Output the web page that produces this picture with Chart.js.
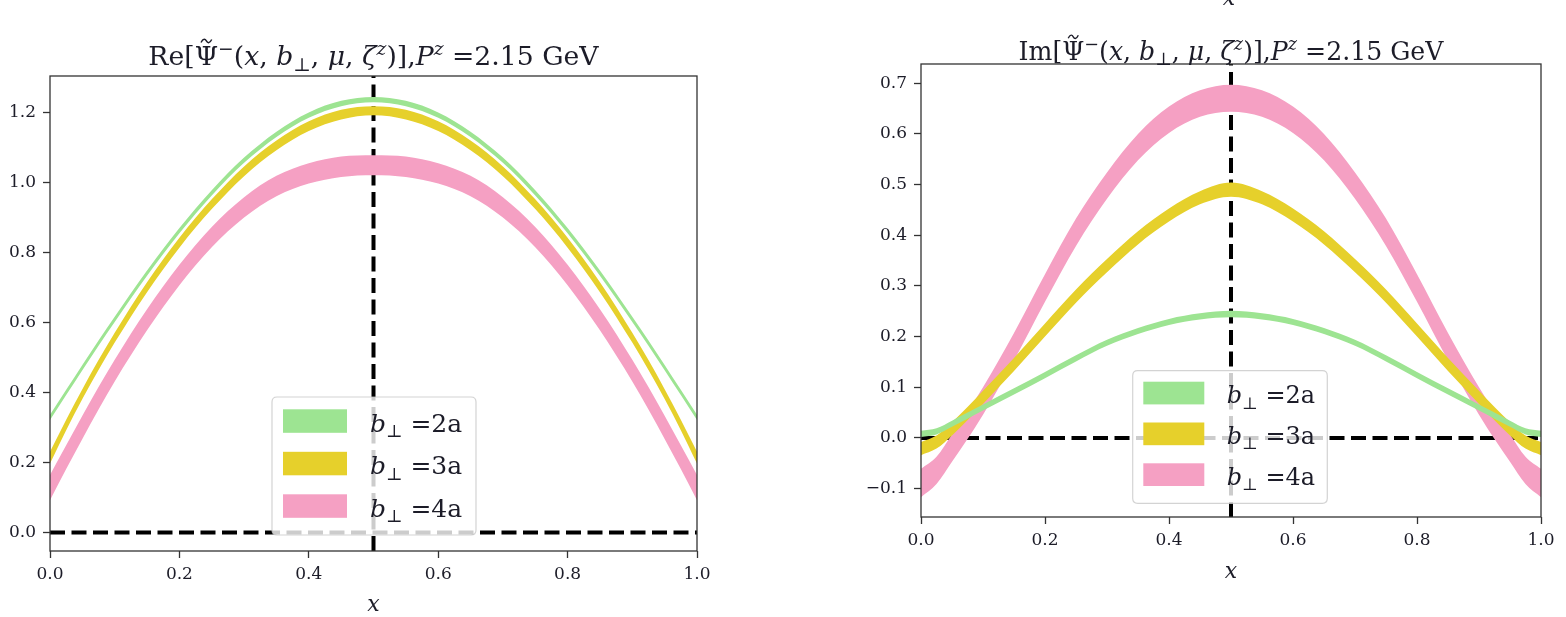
<!DOCTYPE html>
<html><head><meta charset="utf-8">
<script src="https://cdn.jsdelivr.net/npm/chart.js@4/dist/chart.umd.min.js"></script>
<style>
html,body{margin:0;padding:0;background:#fff;width:1566px;height:617px;overflow:hidden}
.w{position:absolute;top:0;width:783px;height:617px}
#w1{left:0}
#w2{left:783px}
</style></head><body>
<div class="w" id="w1"><canvas id="c1"></canvas></div>
<div class="w" id="w2"><canvas id="c2"></canvas></div>
<script>
// ---------------- data ----------------
const xs = [0,0.025,0.05,0.075,0.1,0.15,0.2,0.25,0.3,0.35,0.4,0.45,0.5,0.55,0.6,0.65,0.7,0.75,0.8,0.85,0.9,0.925,0.95,0.975,1];

const reGreenLow  = [0.321,0.392,0.463,0.533,0.601,0.733,0.854,0.962,1.055,1.129,1.184,1.217,1.228,1.217,1.184,1.129,1.055,0.962,0.854,0.733,0.601,0.533,0.463,0.392,0.321];
const reGreenHigh = [0.336,0.407,0.478,0.548,0.616,0.748,0.869,0.977,1.070,1.144,1.199,1.232,1.243,1.232,1.199,1.144,1.070,0.977,0.869,0.748,0.616,0.548,0.478,0.407,0.336];
const reYellowLow  = [0.197,0.292,0.381,0.464,0.542,0.686,0.813,0.923,1.017,1.091,1.146,1.179,1.191,1.179,1.146,1.091,1.017,0.923,0.813,0.686,0.542,0.464,0.381,0.292,0.197];
const reYellowHigh = [0.230,0.322,0.409,0.492,0.570,0.714,0.841,0.951,1.045,1.119,1.174,1.207,1.217,1.207,1.174,1.119,1.045,0.951,0.841,0.714,0.570,0.492,0.409,0.322,0.230];
const rePinkLow  = [0.092,0.181,0.267,0.351,0.431,0.577,0.706,0.814,0.899,0.960,0.996,1.015,1.020,1.015,0.996,0.960,0.899,0.814,0.706,0.577,0.431,0.351,0.267,0.181,0.092];
const rePinkHigh = [0.164,0.249,0.333,0.415,0.493,0.637,0.764,0.872,0.957,1.018,1.054,1.073,1.077,1.073,1.054,1.018,0.957,0.872,0.764,0.637,0.493,0.415,0.333,0.249,0.164];

const imGreenLow  = [0.002,0.007,0.022,0.038,0.054,0.086,0.118,0.151,0.182,0.205,0.223,0.234,0.238,0.234,0.223,0.205,0.182,0.151,0.118,0.086,0.054,0.038,0.022,0.007,0.002];
const imGreenHigh = [0.014,0.019,0.034,0.050,0.066,0.098,0.130,0.163,0.194,0.217,0.235,0.246,0.251,0.246,0.235,0.217,0.194,0.163,0.130,0.098,0.066,0.050,0.034,0.019,0.014];
const imYellowLow  = [-0.034,-0.021,0.005,0.035,0.067,0.132,0.200,0.267,0.327,0.382,0.427,0.461,0.476,0.461,0.427,0.382,0.327,0.267,0.200,0.132,0.067,0.035,0.005,-0.021,-0.034];
const imYellowHigh = [-0.008,0.005,0.031,0.061,0.093,0.158,0.226,0.293,0.353,0.408,0.453,0.487,0.504,0.487,0.453,0.408,0.353,0.293,0.226,0.158,0.093,0.061,0.031,0.005,-0.008];
const imPinkLow  = [-0.117,-0.091,-0.047,-0.002,0.046,0.153,0.269,0.379,0.472,0.548,0.602,0.634,0.644,0.634,0.602,0.548,0.472,0.379,0.269,0.153,0.046,-0.002,-0.047,-0.091,-0.117];
const imPinkHigh = [-0.061,-0.037,0.007,0.052,0.100,0.207,0.323,0.433,0.524,0.600,0.654,0.686,0.697,0.686,0.654,0.600,0.524,0.433,0.323,0.207,0.100,0.052,0.007,-0.037,-0.061];

const xTicks   = [0,0.2,0.4,0.6,0.8,1.0];
const reYTicks = [0,0.2,0.4,0.6,0.8,1.0,1.2];
const imYTicks = [-0.1,0,0.1,0.2,0.3,0.4,0.5,0.6,0.7];
const legendValues = ['2a','3a','4a'];
const refX = 0.5;
const refY = 0;
const reTitlePart = 'Re';
const imTitlePart = 'Im';
const titleTail = ' =2.15 GeV';

// ---------------- styling ----------------
const COLORS = ['#9de492','#e6d02b','#f5a0c3'];
const SERIF = "'DejaVu Serif', 'Liberation Serif', serif";
const INK = '#1c1c28';

function pts(ys){ return xs.map((x,i)=>({x, y: ys[i]})); }

function drawRich(ctx, segs, x0, baseY, size, align){
  const pieces = segs.map(([t, st, pos]) => {
    const small = pos === 'sup' || pos === 'sub';
    const s = small ? size*0.7 : size;
    const font = (st==='i' ? 'italic ' : '') + s + 'px ' + SERIF;
    ctx.font = font;
    const w = ctx.measureText(t).width;
    const dy = pos==='sup' ? -size*0.38 : (pos==='sub' ? size*0.22 : 0);
    return {t, font, w, dy, pos};
  });
  const total = pieces.reduce((a,p)=>a+p.w, 0);
  let x = align==='center' ? x0 - total/2 : x0;
  ctx.textAlign = 'left';
  ctx.textBaseline = 'alphabetic';
  for (const p of pieces){
    ctx.font = p.font; ctx.fillText(p.t, x, baseY + p.dy);
    if (p.pos === 'tilde'){
      const cx = x + p.w/2, ty = baseY - size*0.9, hw = size*0.2;
      ctx.save(); ctx.strokeStyle = ctx.fillStyle; ctx.lineWidth = size*0.055; ctx.beginPath();
      ctx.moveTo(cx - hw, ty + 1.5);
      ctx.bezierCurveTo(cx - hw*0.6, ty - 3, cx - hw*0.2, ty - 2, cx, ty);
      ctx.bezierCurveTo(cx + hw*0.2, ty + 2, cx + hw*0.6, ty + 3, cx + hw, ty - 1.5);
      ctx.stroke(); ctx.restore();
    }
    x += p.w;
  }
  return total;
}

function titleSegs(part){
  return [[part + '[', 'r'], ['\u03A8', 'r', 'tilde'], ['\u2212', 'r', 'sup'], ['(', 'r'], ['x', 'i'], [', ', 'r'],
          ['b', 'i'], ['\u22A5', 'r', 'sub'], [', ', 'r'], ['\u03BC', 'i'], [', ', 'r'], ['\u03B6', 'i'],
          ['z', 'i', 'sup'], [')],', 'r'], ['P', 'i'], ['z', 'i', 'sup'], [titleTail, 'r']];
}

function roundRect(ctx, x, y, w, h, r){
  ctx.beginPath();
  ctx.moveTo(x+r, y); ctx.lineTo(x+w-r, y); ctx.quadraticCurveTo(x+w, y, x+w, y+r);
  ctx.lineTo(x+w, y+h-r); ctx.quadraticCurveTo(x+w, y+h, x+w-r, y+h);
  ctx.lineTo(x+r, y+h); ctx.quadraticCurveTo(x, y+h, x, y+h-r);
  ctx.lineTo(x, y+r); ctx.quadraticCurveTo(x, y, x+r, y);
  ctx.closePath();
}

const decor = {
  id: 'decor',
  afterDatasetsDraw(chart, args, o){
    const ctx = chart.ctx, a = chart.chartArea;
    ctx.save();
    // frame
    ctx.strokeStyle = '#333'; ctx.lineWidth = 1.3;
    ctx.strokeRect(a.left, a.top, a.right - a.left, a.bottom - a.top);
    // legend
    const L = o.legend;
    roundRect(ctx, L.x, L.y, L.w, L.h, 5);
    ctx.fillStyle = 'rgba(255,255,255,0.8)'; ctx.fill();
    ctx.strokeStyle = 'rgba(200,200,200,0.8)'; ctx.lineWidth = 1.2; ctx.stroke();
    legendValues.forEach((v, i) => {
      const py = L.rowY + i*L.step;
      ctx.fillStyle = COLORS[i];
      ctx.fillRect(L.px, py, L.pw, L.ph);
      ctx.fillStyle = INK;
      drawRich(ctx, [['b','i'], ['\u22A5','r','sub'], [' =' + v, 'r']], L.tx, py + L.ph - 1, L.fs, 'left');
    });
    // title
    ctx.fillStyle = INK;
    drawRich(ctx, titleSegs(o.part), (a.left + a.right)/2, o.titleY, o.titleSize, 'center');
    if (o.stray){
      ctx.font = 'italic 22px ' + SERIF; ctx.textAlign = 'center'; ctx.textBaseline = 'alphabetic';
      ctx.fillText('x', o.stray.x, o.stray.y);
    }
    ctx.restore();
  }
};

function makeChart(id, bands, cfg){
  const datasets = [];
  bands.forEach(([lo, hi], i) => {
    datasets.push({data: pts(lo), showLine: true, borderWidth: 0, pointRadius: 0, fill: false, cubicInterpolationMode: 'monotone', borderColor: COLORS[i]});
    datasets.push({data: pts(hi), showLine: true, borderWidth: 0, pointRadius: 0, fill: '-1', backgroundColor: COLORS[i], borderColor: COLORS[i], cubicInterpolationMode: 'monotone'});
  });
  datasets.push({data: [{x: xs[0], y: refY}, {x: xs[xs.length-1], y: refY}], showLine: true, borderColor: '#000', borderWidth: 4, borderDash: [15, 6.5], pointRadius: 0, fill: false});
  datasets.push({data: [{x: refX, y: cfg.yMin}, {x: refX, y: cfg.yMax}], showLine: true, borderColor: '#000', borderWidth: 4, borderDash: [15, 6.5], pointRadius: 0, fill: false});

  return new Chart(document.getElementById(id), {
    type: 'scatter',
    data: {datasets},
    options: {
      responsive: true, maintainAspectRatio: false, animation: false,
      events: [],
      layout: {padding: {top: cfg.padTop, right: cfg.padRight, left: 0, bottom: 0}},
      plugins: {legend: {display: false}, title: {display: false}, tooltip: {enabled: false},
        decor: cfg.decor},
      scales: {
        x: {
          type: 'linear', min: 0, max: 1,
          afterFit: s => { s.height = cfg.xAxisH; },
          afterBuildTicks: s => { s.ticks = xTicks.map(v => ({value: v})); },
          grid: {drawOnChartArea: false, drawTicks: true, tickLength: 7, tickColor: '#333', tickWidth: 1.3},
          border: {display: false},
          ticks: {padding: 6, color: INK, font: {family: SERIF, size: 17}, callback: v => v.toFixed(1), maxRotation: 0},
          title: {display: true, text: 'x', color: INK, font: {family: SERIF, size: 22, style: 'italic', lineHeight: 1}, padding: {top: 0, bottom: cfg.xTitlePad}}
        },
        y: {
          type: 'linear', min: cfg.yMin, max: cfg.yMax,
          afterFit: s => { s.width = cfg.yAxisW; },
          afterBuildTicks: s => { s.ticks = cfg.yTicks.map(v => ({value: v})); },
          grid: {drawOnChartArea: false, drawTicks: true, tickLength: 7, tickColor: '#333', tickWidth: 1.3},
          border: {display: false},
          ticks: {padding: 7, color: INK, font: {family: SERIF, size: 17},
            callback: v => (v < 0 ? '\u2212' : '') + Math.abs(v).toFixed(1)}
        }
      }
    },
    plugins: [decor]
  });
}

makeChart('c1', [[reGreenLow, reGreenHigh], [reYellowLow, reYellowHigh], [rePinkLow, rePinkHigh]], {
  yMin: -0.053, yMax: 1.303, yTicks: reYTicks, padTop: 76, padRight: 86, yAxisW: 50, xAxisH: 66, xTitlePad: 1,
  decor: {part: reTitlePart, titleY: 65, titleSize: 26.7,
    legend: {x: 272, y: 397, w: 204, h: 138, px: 283, pw: 64, ph: 23.5, rowY: 409.3, step: 42.5, tx: 370, fs: 25}}
});

makeChart('c2', [[imGreenLow, imGreenHigh], [imYellowLow, imYellowHigh], [imPinkLow, imPinkHigh]], {
  yMin: -0.156, yMax: 0.738, yTicks: imYTicks, padTop: 64, padRight: 25, yAxisW: 138, xAxisH: 100, xTitlePad: 34,
  decor: {part: imTitlePart, titleY: 59.5, titleSize: 25.2, stray: {x: 446, y: 5},
    legend: {x: 349.7, y: 370.7, w: 194.6, h: 132.6, px: 360.3, pw: 61, ph: 22.7, rowY: 381.7, step: 40.8, tx: 443.7, fs: 24}}
});
</script>
</body></html>
